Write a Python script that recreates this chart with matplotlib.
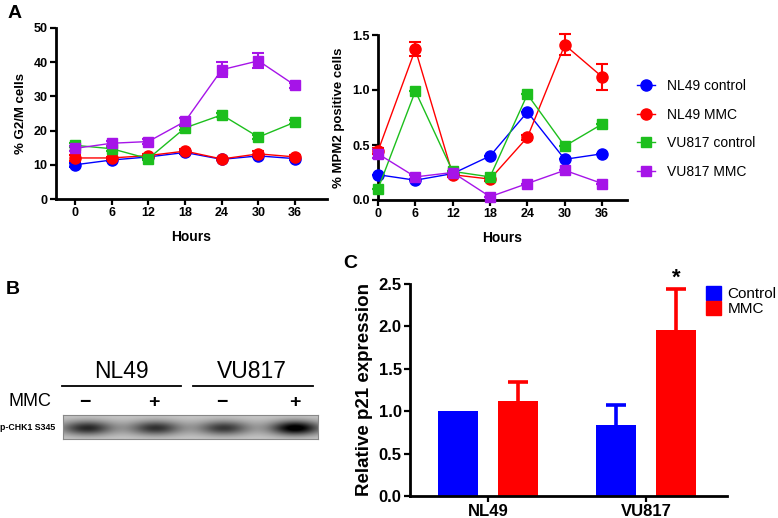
import numpy as np
import matplotlib
matplotlib.use("Agg")
import matplotlib.pyplot as plt
from matplotlib.lines import Line2D
from matplotlib.patches import Patch

plt.rcParams['font.family'] = ['Liberation Sans', 'DejaVu Sans']

W, H = 778, 518

# ---------------- data ----------------
hours = [0, 6, 12, 18, 24, 30, 36]
series_names = ["NL49 control", "NL49 MMC", "VU817 control", "VU817 MMC"]
series_colors = ["#0000ff", "#ff0000", "#1dbf1d", "#a614e8"]
series_markers = ["o", "o", "s", "s"]

g2m_nl49_ctrl = [10.0, 11.4, 12.3, 13.6, 11.6, 12.6, 11.8]
g2m_nl49_mmc = [12.0, 12.0, 12.7, 14.0, 11.7, 13.2, 12.3]
g2m_vu817_ctrl = [15.7, 14.7, 11.8, 20.8, 24.6, 18.1, 22.5]
g2m_vu817_mmc = [14.8, 16.3, 16.8, 22.7, 37.8, 40.4, 33.2]
g2m_err_nl49_ctrl = [0.5, 0.3, 0.3, 0.4, 0.3, 0.4, 0.3]
g2m_err_nl49_mmc = [1.0, 0.4, 0.5, 0.6, 0.3, 0.8, 0.5]
g2m_err_vu817_ctrl = [0.6, 0.6, 0.4, 0.6, 0.6, 0.5, 0.6]
g2m_err_vu817_mmc = [0.8, 0.8, 0.6, 1.0, 2.2, 2.2, 0.8]

mpm_nl49_ctrl = [0.23, 0.18, 0.24, 0.40, 0.80, 0.37, 0.42]
mpm_nl49_mmc = [0.445, 1.37, 0.23, 0.19, 0.57, 1.41, 1.12]
mpm_vu817_ctrl = [0.10, 0.99, 0.26, 0.21, 0.96, 0.49, 0.69]
mpm_vu817_mmc = [0.42, 0.21, 0.25, 0.03, 0.15, 0.27, 0.15]
mpm_err_nl49_ctrl = [0.0, 0.0, 0.0, 0.0, 0.0, 0.0, 0.0]
mpm_err_nl49_mmc = [0.03, 0.065, 0.02, 0.02, 0.02, 0.095, 0.12]
mpm_err_vu817_ctrl = [0.0, 0.0, 0.0, 0.0, 0.0, 0.0, 0.0]
mpm_err_vu817_mmc = [0.04, 0.02, 0.0, 0.0, 0.0, 0.0, 0.0]

g2m_values = [g2m_nl49_ctrl, g2m_nl49_mmc, g2m_vu817_ctrl, g2m_vu817_mmc]
g2m_errors = [g2m_err_nl49_ctrl, g2m_err_nl49_mmc, g2m_err_vu817_ctrl, g2m_err_vu817_mmc]
mpm_values = [mpm_nl49_ctrl, mpm_nl49_mmc, mpm_vu817_ctrl, mpm_vu817_mmc]
mpm_errors = [mpm_err_nl49_ctrl, mpm_err_nl49_mmc, mpm_err_vu817_ctrl, mpm_err_vu817_mmc]

p21_groups = ["NL49", "VU817"]
p21_control = [1.0, 0.836]
p21_control_err = [0.0, 0.235]
p21_mmc = [1.115, 1.955]
p21_mmc_err = [0.225, 0.49]
p21_colors = ["#0000ff", "#ff0000"]

blot_lines = ["NL49", "VU817"]
blot_mmc = ["\u2212", "+", "\u2212", "+"]
blot_band_intensity = [0.62, 0.58, 0.55, 0.85]

# ---------------- figure ----------------
fig = plt.figure(figsize=(W / 100, H / 100), dpi=100)


def fax(l, t, r, b):
    return fig.add_axes([l / W, 1 - b / H, (r - l) / W, (b - t) / H])


def ftext(x, y, s, **kw):
    fig.text(x / W, 1 - y / H, s, **kw)


def style_axis(ax, lw=2.0, tickfs=9):
    for s in ["top", "right"]:
        ax.spines[s].set_visible(False)
    for s in ["left", "bottom"]:
        ax.spines[s].set_linewidth(lw)
    ax.tick_params(width=lw * 0.8, length=4, labelsize=tickfs, pad=2)
    for lab in ax.get_xticklabels() + ax.get_yticklabels():
        lab.set_fontweight("bold")


# ----- Panel A left -----
axL = fax(56, 28, 327, 199)
for vals, errs, c, m in zip(g2m_values, g2m_errors, series_colors, series_markers):
    axL.errorbar(hours, vals, yerr=errs, color=c, marker=m,
                 markersize=8 if m == "o" else 7.5, lw=1.0, capsize=4,
                 elinewidth=1.5, capthick=1.5, clip_on=False, zorder=3)
axL.set_xlim(-3.1, 41.2)
axL.set_ylim(0, 50)
axL.set_xticks(hours)
axL.set_yticks([0, 10, 20, 30, 40, 50])
style_axis(axL)
axL.set_xlabel("Hours", fontsize=10, fontweight="bold", labelpad=8)
axL.set_ylabel("% G2/M cells", fontsize=9.5, fontweight="bold", labelpad=5)

# ----- Panel A right -----
axR = fax(378, 35, 627, 200)
for vals, errs, c, m in zip(mpm_values, mpm_errors, series_colors, series_markers):
    axR.errorbar(hours, vals, yerr=errs, color=c, marker=m,
                 markersize=8 if m == "o" else 7.5, lw=1.0, capsize=4,
                 elinewidth=1.5, capthick=1.5, clip_on=False, zorder=3)
axR.set_xlim(0, 40.0)
axR.set_ylim(0, 1.5)
axR.set_xticks(hours)
axR.set_yticks([0.0, 0.5, 1.0, 1.5])
axR.set_yticklabels(["0.0", "0.5", "1.0", "1.5"])
style_axis(axR)
axR.set_xlabel("Hours", fontsize=10, fontweight="bold", labelpad=8)
axR.set_ylabel("% MPM2 positive cells", fontsize=9.5, fontweight="bold", labelpad=5)

handles = [Line2D([0], [0], color=c, marker=m, markersize=8 if m == "o" else 7.5, lw=1.0)
           for c, m in zip(series_colors, series_markers)]
fig.legend(handles, series_names, loc="upper left",
           bbox_to_anchor=(637 / W, 1 - 79 / H), frameon=False, fontsize=10,
           handlelength=1.3, handletextpad=0.85, labelspacing=1.05,
           borderpad=0, borderaxespad=0)

# ----- Panel C -----
axC = fax(410, 284, 727, 496)
xg = np.arange(len(p21_groups))
off, bw = 0.19, 0.258
axC.bar(xg - off, p21_control, bw, color=p21_colors[0], zorder=2, label="Control")
axC.bar(xg + off, p21_mmc, bw, color=p21_colors[1], zorder=2, label="MMC")
for xs, vals, errs, c in [(xg - off, p21_control, p21_control_err, p21_colors[0]),
                          (xg + off, p21_mmc, p21_mmc_err, p21_colors[1])]:
    for x, v, e in zip(xs, vals, errs):
        if e > 0:
            axC.vlines(x, v, v + e, color=c, lw=2.6, zorder=1)
            axC.hlines(v + e, x - 0.062, x + 0.062, color=c, lw=2.6, zorder=1)
axC.set_xlim(-0.494, 1.513)
axC.set_ylim(0, 2.5)
axC.set_xticks(xg)
axC.set_xticklabels(p21_groups)
axC.set_yticks([0.0, 0.5, 1.0, 1.5, 2.0, 2.5])
axC.set_yticklabels(["0.0", "0.5", "1.0", "1.5", "2.0", "2.5"])
style_axis(axC, lw=2.0, tickfs=12)
axC.set_ylabel("Relative p21 expression", fontsize=13.5, fontweight="bold", labelpad=4)
axC.text(1 + off, p21_mmc[1] + p21_mmc_err[1] + 0.12, "*", ha="center", va="center",
         fontsize=16, fontweight="bold")
fig.legend([Patch(color=p21_colors[0]), Patch(color=p21_colors[1])], ["Control", "MMC"],
           loc="upper left", bbox_to_anchor=(706 / W, 1 - 286 / H), frameon=False,
           fontsize=11, handlelength=1.0, handleheight=1.0, handletextpad=0.4,
           labelspacing=0.0, borderpad=0, borderaxespad=0)

# ----- Panel B (western blot) -----
axB = fax(63, 415, 318, 439)
bw_px, bh_px = 255, 24
xx = np.arange(bw_px)[None, :]
yy = np.arange(bh_px)[:, None]
lane_centers = [24, 92, 160, 231]
img = 0.84 - 0.10 * np.exp(-((yy - 12) / 14.0) ** 2) + 0 * xx
for cx, inten in zip(lane_centers, blot_band_intensity):
    sx = 25 if inten < 0.8 else 24
    img = img - inten * 0.95 * np.exp(-((xx - cx) / sx) ** 2 - ((yy - 12.5) / 7.0) ** 2)
img = np.clip(img, 0, 1)
axB.imshow(img, cmap="gray", vmin=0, vmax=1, aspect="auto",
           extent=(0, bw_px, bh_px, 0), interpolation="bilinear")
axB.set_xticks([])
axB.set_yticks([])
for s in axB.spines.values():
    s.set_color("#888888")
    s.set_linewidth(0.8)

ftext(121, 372, blot_lines[0], ha="center", va="center", fontsize=16.5)
ftext(252, 372, blot_lines[1], ha="center", va="center", fontsize=16.5)
fig.add_artist(Line2D([62 / W, 181 / W], [1 - 386 / H] * 2, color="black", lw=1.3))
fig.add_artist(Line2D([193 / W, 313 / W], [1 - 386 / H] * 2, color="black", lw=1.3))
ftext(8, 401, "MMC", ha="left", va="center", fontsize=13)
for cx, s in zip([85, 154, 222, 295], blot_mmc):
    ftext(cx, 402, s, ha="center", va="center", fontsize=14, fontweight="bold")
ftext(0, 427, "p-CHK1 S345", ha="left", va="center", fontsize=6.3, fontweight="bold")

# ----- panel letters -----
ftext(8, 13, "A", ha="left", va="center", fontsize=14, fontweight="bold")
ftext(6, 290, "B", ha="left", va="center", fontsize=14, fontweight="bold")
ftext(343, 263, "C", ha="left", va="center", fontsize=14, fontweight="bold")

fig.savefig("out.png", dpi=100)
